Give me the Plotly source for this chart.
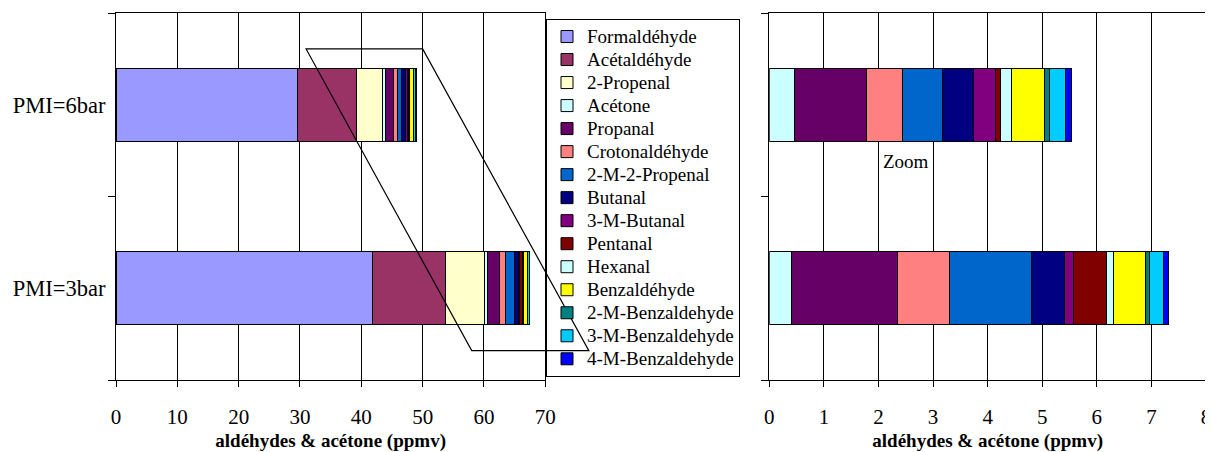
import plotly.graph_objects as go

# ---- data ----
categories = ["PMI=3bar", "PMI=6bar"]
compounds = ["Formaldéhyde", "Acétaldéhyde", "2-Propenal", "Acétone", "Propanal",
             "Crotonaldéhyde", "2-M-2-Propenal", "Butanal", "3-M-Butanal", "Pentanal",
             "Hexanal", "Benzaldéhyde", "2-M-Benzaldehyde", "3-M-Benzaldehyde",
             "4-M-Benzaldehyde"]
values_3bar = [41.9, 11.9, 6.35, 0.40, 1.95, 0.95, 1.50, 0.60, 0.17, 0.61, 0.12, 0.59, 0.08, 0.26, 0.09]
values_6bar = [29.63, 9.61, 4.19, 0.47, 1.31, 0.66, 0.73, 0.57, 0.40, 0.09, 0.20, 0.61, 0.09, 0.30, 0.10]
colors = ["#9999FF", "#993366", "#FFFFCC", "#CCFFFF", "#660066", "#FF8080", "#0066CC",
          "#000080", "#800080", "#800000", "#CCFFFF", "#FFFF00", "#008080", "#00CCFF", "#0000FF"]
zoom_start = 3  # right panel shows compounds from Acétone onwards
left_ticks = [0, 10, 20, 30, 40, 50, 60, 70]
right_ticks = [0, 1, 2, 3, 4, 5, 6, 7, 8]
axis_title = "<b>aldéhydes & acétone (ppmv)</b>"

# page body has an 8px margin: the figure is sized/positioned to compensate
OFF = 8
W, H = 1213 - OFF, 452 - OFF
FONT = "Liberation Serif"

fig = go.Figure()
for i, name in enumerate(compounds):
    fig.add_trace(go.Bar(
        y=categories, x=[values_3bar[i], values_6bar[i]], orientation="h",
        name='<span style="font-size:19px">' + name + '</span>',
        marker=dict(color=colors[i], line=dict(color="black", width=1)),
        legendgroup=name, xaxis="x", yaxis="y", showlegend=True))
for i in range(zoom_start, len(compounds)):
    fig.add_trace(go.Bar(
        y=categories, x=[values_3bar[i], values_6bar[i]], orientation="h",
        name=compounds[i], marker=dict(color=colors[i], line=dict(color="black", width=1)),
        legendgroup=compounds[i], xaxis="x2", yaxis="y2", showlegend=False))

dom1 = [(116.0 - OFF) / W, (545.3 - OFF) / W]
dom2 = [(769.3 - OFF) / W, (1206.0 - OFF) / W]
top_px, bot_px = 13 - OFF, 380 - OFF
plot_h = bot_px - top_px

xcommon = dict(showgrid=True, gridcolor="black", gridwidth=1, showline=True, linecolor="black",
               linewidth=1, mirror=True, ticks="outside", ticklen=6, tickcolor="black",
               tickfont=dict(family=FONT, size=21, color="black"), zeroline=False,
               ticklabelstandoff=12, automargin=False,
               title=dict(text=axis_title, font=dict(family=FONT, size=19, color="black"), standoff=13))
ycommon = dict(type="category", categoryorder="array", categoryarray=categories,
               range=[-0.5, 1.5], showgrid=False, showline=True, linecolor="black", linewidth=1,
               mirror=True, ticks="outside", ticklen=7, tickcolor="black", tickson="boundaries",
               automargin=False, ticklabelstandoff=5,
               tickfont=dict(family=FONT, size=22.5, color="black"))

fig.update_layout(
    width=W, height=H, autosize=False,
    margin=dict(l=0, r=0, t=top_px, b=H - bot_px),
    paper_bgcolor="white", plot_bgcolor="white",
    barmode="stack", bargap=0.6,
    xaxis=dict(domain=dom1, range=[0, 70], tickvals=left_ticks, anchor="y", **xcommon),
    yaxis=dict(domain=[0, 1], anchor="x", showticklabels=True, **ycommon),
    xaxis2=dict(domain=dom2, range=[0, 8], tickvals=right_ticks, anchor="y2", **xcommon),
    yaxis2=dict(domain=[0, 1], anchor="x2", showticklabels=False, **ycommon),
    legend=dict(x=(546 - OFF) / W, y=(bot_px - (19 - OFF)) / plot_h, xanchor="left", yanchor="top",
                bordercolor="black", borderwidth=1, bgcolor="rgba(0,0,0,0)", maxheight=420,
                font=dict(family=FONT, size=15.4, color="black"), traceorder="normal"),
    font=dict(family=FONT, color="black"),
    showlegend=True,
)

# zoom frame (parallelogram) defined in left-axis data units, converted to paper coords
def to_paper(xd, yd):
    return dom1[0] + xd / 70.0 * (dom1[1] - dom1[0]), (yd + 0.5) / 2.0

pts = [to_paper(31.0, 1.304), to_paper(50.0, 1.304), to_paper(77.1, -0.34), to_paper(58.0, -0.34)]
path = "M {} {} L {} {} L {} {} L {} {} Z".format(*[c for p in pts for c in p])
fig.add_shape(type="path", path=path, xref="paper", yref="paper",
              line=dict(color="black", width=1.2), layer="above")

fig.add_annotation(text="Zoom", x=2.5, y=0.689, xref="x2", yref="y2", showarrow=False,
                   font=dict(family=FONT, size=19, color="black"))

fig.write_html("out.html")
